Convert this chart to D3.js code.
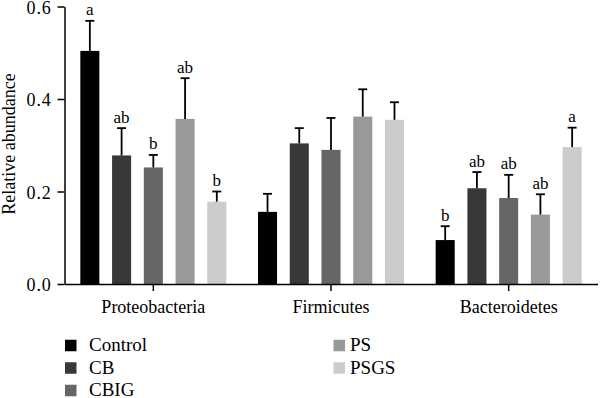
<!DOCTYPE html>
<html>
<head>
<meta charset="utf-8">
<script src="https://cdn.jsdelivr.net/npm/d3@7"></script>
<style>
  body { margin: 0; background: #fff; }
  svg { display: block; }
</style>
</head>
<body>
<div id="chart"></div>
<script>
// categories and treatment groups
var phyla = ["Proteobacteria", "Firmicutes", "Bacteroidetes"];
var groups = ["Control", "CB", "CBIG", "PS", "PSGS"];
var colors = ["#000000", "#383838", "#666666", "#999999", "#cccccc"];
var yTicks = [0, 0.2, 0.4, 0.6];

// mean relative abundance per phylum, in group order
var proteoMean = [0.504, 0.278, 0.252, 0.357, 0.178];
var firmiMean = [0.156, 0.304, 0.290, 0.362, 0.355];
var bacteroMean = [0.095, 0.207, 0.186, 0.150, 0.296];

// error (upper bar only)
var proteoErr = [0.065, 0.059, 0.027, 0.088, 0.022];
var firmiErr = [0.039, 0.033, 0.069, 0.059, 0.038];
var bacteroErr = [0.030, 0.035, 0.050, 0.044, 0.042];

// significance letters
var proteoSig = ["a", "ab", "b", "ab", "b"];
var firmiSig = ["", "", "", "", ""];
var bacteroSig = ["b", "ab", "ab", "ab", "a"];

var means = [proteoMean, firmiMean, bacteroMean];
var errs = [proteoErr, firmiErr, bacteroErr];
var sigs = [proteoSig, firmiSig, bacteroSig];

var serif = "'Liberation Serif', 'DejaVu Serif', serif";

var rows = [];
phyla.forEach(function (p, i) {
    groups.forEach(function (g, j) {
        rows.push({phylum: p, group: g, value: means[i][j], err: errs[i][j], sig: sigs[i][j]});
    });
});

var width = 600, height = 398;
var svg = d3.select("#chart").append("svg")
    .attr("width", width)
    .attr("height", height)
    .attr("font-family", serif);

var y = d3.scaleLinear().domain([0, 0.6]).range([284, 6.5]);
var x0 = d3.scaleBand().domain(phyla).range([64.5, 597.5]).padding(0);
var x1 = d3.scaleBand().domain(groups).range([0, 146]).paddingInner(0.4).paddingOuter(0);
var color = d3.scaleOrdinal().domain(groups).range(colors);

function barX(d) {
    return x0(d.phylum) + (x0.bandwidth() - 146) / 2 + x1(d.group);
}
function barC(d) {
    return barX(d) + x1.bandwidth() / 2;
}

// ****************** bars ***************************
svg.append("g").selectAll("rect")
    .data(rows)
    .enter().append("rect")
    .attr("x", barX)
    .attr("width", x1.bandwidth())
    .attr("y", function (d) { return y(d.value); })
    .attr("height", function (d) { return y(0) - y(d.value); })
    .attr("fill", function (d) { return color(d.group); });

// error bars
var eb = svg.append("g").attr("stroke", "#000").attr("stroke-width", 1.8);
eb.selectAll("line.v")
    .data(rows)
    .enter().append("line")
    .attr("class", "v")
    .attr("x1", barC).attr("x2", barC)
    .attr("y1", function (d) { return y(d.value); })
    .attr("y2", function (d) { return y(d.value + d.err); });
eb.selectAll("line.cap")
    .data(rows)
    .enter().append("line")
    .attr("class", "cap")
    .attr("x1", function (d) { return barC(d) - 4.5; })
    .attr("x2", function (d) { return barC(d) + 4.5; })
    .attr("y1", function (d) { return y(d.value + d.err); })
    .attr("y2", function (d) { return y(d.value + d.err); });

// letters
svg.append("g").selectAll("text")
    .data(rows.filter(function (d) { return d.sig; }))
    .enter().append("text")
    .attr("x", barC)
    .attr("y", function (d) { return y(d.value + d.err) - 5.5; })
    .attr("text-anchor", "middle")
    .style("font-family", serif)
    .style("font-size", "17px")
    .attr("fill", "#000")
    .text(function (d) { return d.sig; });

// ****************** axes ***************************
var yAxis = svg.append("g")
    .attr("transform", "translate(64.5,0)")
    .call(d3.axisLeft(y).tickValues(yTicks).tickFormat(d3.format(".1f"))
        .tickSize(7).tickSizeOuter(0).tickPadding(6));

var xAxis = svg.append("g")
    .attr("transform", "translate(0,284)")
    .call(d3.axisBottom(x0).tickSize(7).tickSizeOuter(0).tickPadding(9.5));

[yAxis, xAxis].forEach(function (a) {
    a.attr("font-family", serif);
    a.selectAll("path, line").attr("stroke", "#000").attr("stroke-width", 1.5);
    a.selectAll("text").attr("fill", "#000")
        .style("font-family", serif)
        .style("font-size", "18px");
});
yAxis.selectAll("text").style("letter-spacing", "0.8px").attr("dy", "0.38em");

svg.append("text")
    .attr("transform", "translate(15,144) rotate(-90)")
    .attr("text-anchor", "middle")
    .style("font-family", serif)
    .style("font-size", "18px")
    .attr("fill", "#000")
    .text("Relative abundance");

// ****************** legend ***************************
var legendCols = [{sq: 65, tx: 89}, {sq: 333.5, tx: 350}];
var legend = svg.append("g").selectAll("g")
    .data(groups)
    .enter().append("g")
    .attr("transform", function (d, i) {
        var c = legendCols[i < 3 ? 0 : 1];
        var r = i < 3 ? i : i - 3;
        return "translate(" + c.sq + "," + (345.5 + r * 22.5) + ")";
    });
legend.append("rect")
    .attr("x", 0).attr("y", -5.75)
    .attr("width", 11.5).attr("height", 11.5)
    .attr("fill", function (d) { return color(d); });
legend.append("text")
    .attr("x", function (d, i) { return legendCols[i < 3 ? 0 : 1].tx - legendCols[i < 3 ? 0 : 1].sq; })
    .attr("y", 5.5)
    .style("font-family", serif)
    .style("font-size", "19px")
    .attr("fill", "#000")
    .text(function (d) { return d; });
</script>
</body>
</html>
